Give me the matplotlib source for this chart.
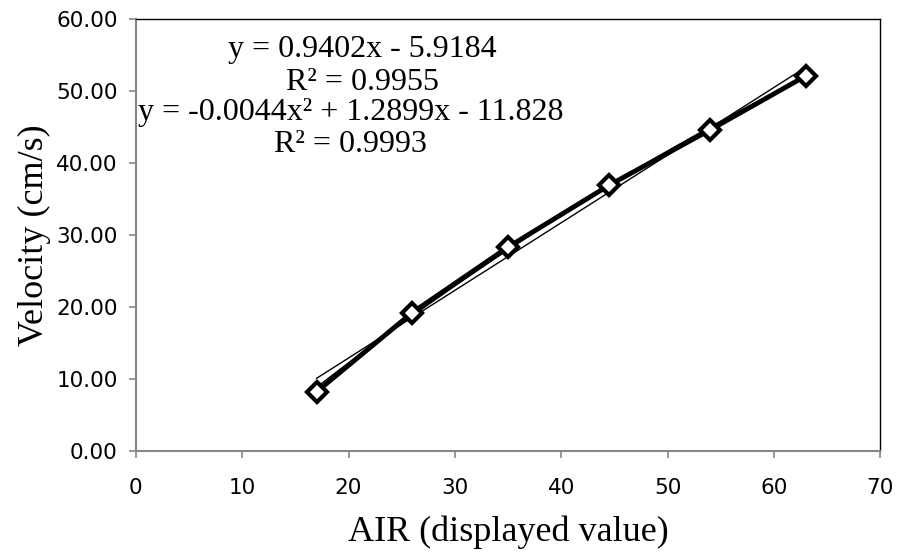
import matplotlib
matplotlib.use("Agg")
import matplotlib.pyplot as plt
import numpy as np

# AIR reading vs. measured velocity
air = [17, 26, 35, 44.5, 54, 63]
velocity = [8.2, 19.2, 28.3, 36.9, 44.6, 52.1]

# trendline coefficients (highest power first)
lin_coef = [0.9402, -5.9184]
poly_coef = [-0.0044, 1.2899, -11.828]
lin_label = "y = 0.9402x - 5.9184\nR² = 0.9955"
poly_label = "y = -0.0044x² + 1.2899x - 11.828\nR² = 0.9993"

x_ticks = np.arange(0, 71, 10)
y_ticks = np.arange(0, 61, 10)

SPINE = "#868686"
SERIF = "Liberation Serif"

fig = plt.figure(figsize=(9, 5.54), dpi=100)
ax = fig.add_axes([0.151, 0.1865, 0.827, 0.779])

xs = np.linspace(min(air), max(air), 200)
ax.plot(xs, np.polyval(lin_coef, xs), color="black", lw=1.0, zorder=2)
ax.plot(xs, np.polyval(poly_coef, xs), color="black", lw=1.0, zorder=2)
ax.plot(air, velocity, color="black", lw=3.5, marker="D", ms=10,
        mfc="white", mec="black", mew=3, zorder=3)

ax.set_xlim(0, 70)
ax.set_ylim(0, 60)
ax.set_xticks(x_ticks)
ax.set_yticks(y_ticks)
ax.set_yticklabels([f"{v:.2f}" for v in y_ticks])
ax.tick_params(direction="out", length=5, width=1.2, color=SPINE,
               labelsize=15.5)
ax.tick_params(axis="x", pad=15)
ax.tick_params(axis="y", pad=8)

for side in ("left", "bottom"):
    ax.spines[side].set_color(SPINE)
    ax.spines[side].set_linewidth(1.5)
for side in ("top", "right"):
    ax.spines[side].set_color("black")
    ax.spines[side].set_linewidth(1.0)

ax.set_xlabel("AIR (displayed value)", family=SERIF, fontsize=26, labelpad=12)
ax.set_ylabel("Velocity (cm/s)", family=SERIF, fontsize=26, labelpad=4)

ax.text(21.3, 53.5, lin_label, family=SERIF, fontsize=23, ha="center",
        va="center", linespacing=1.2)
ax.text(20.2, 44.8, poly_label, family=SERIF, fontsize=23, ha="center",
        va="center", linespacing=1.15)

fig.savefig("out.png", dpi=100, facecolor="white")
